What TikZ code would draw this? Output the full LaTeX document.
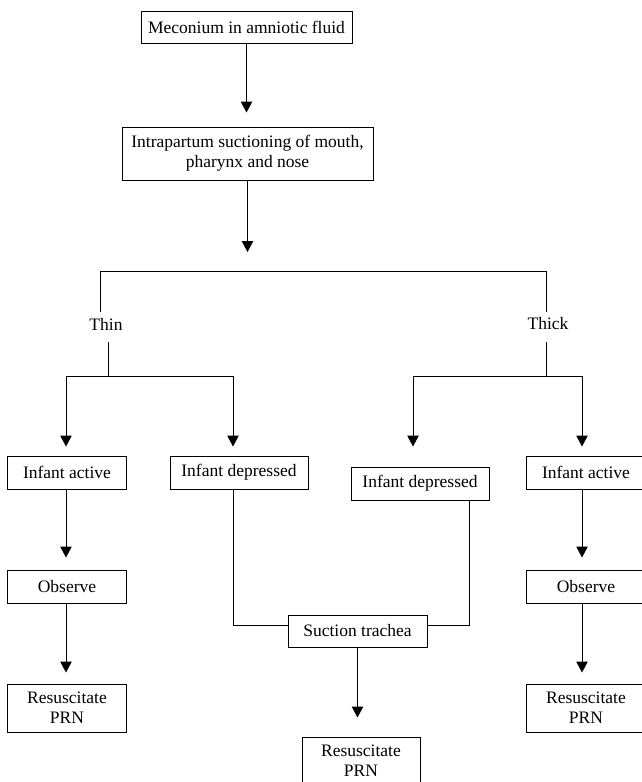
\documentclass[tikz,border=0pt]{standalone}
\usepackage{fontspec}
\setmainfont{Liberation Serif}
\usetikzlibrary{arrows.meta}
\begin{document}
\begin{tikzpicture}[x=1pt,y=-1pt, line width=1pt,
  box/.style={draw, inner sep=0pt, align=center, font=\fontsize{17.5}{20}\selectfont},
  lbl/.style={inner sep=0pt, font=\fontsize{17.5}{20}\selectfont},
  arr/.style={-{Triangle[width=11.5pt,length=11pt]}}]
\useasboundingbox (0,0) rectangle (642,782);
\clip (0,0) rectangle (642,782);
\fill[white] (0,0) rectangle (642,782);
% boxes
\node[box, minimum width=211pt, minimum height=32pt] (m) at (246.5,27) {Meconium in amniotic fluid};
\node[box, minimum width=251pt, minimum height=53pt] (ip) at (247.5,153.5) {Intrapartum suctioning of mouth,\\ pharynx and nose};
\node[lbl] (thin) at (106,324) {Thin};
\node[lbl] (thick) at (548,324) {Thick};
\node[box, minimum width=119pt, minimum height=33pt] (ia1) at (67,472.5) {Infant active};
\node[box, minimum width=138pt, minimum height=33pt] (id1) at (239,472.5) {Infant depressed};
\node[box, minimum width=138pt, minimum height=33pt] (id2) at (420,483.5) {Infant depressed};
\node[box, minimum width=119pt, minimum height=33pt] (ia2) at (586,472.5) {Infant active};
\node[box, minimum width=119pt, minimum height=33pt] (ob1) at (67,586.5) {Observe};
\node[box, minimum width=119pt, minimum height=33pt] (ob2) at (586,586.5) {Observe};
\node[box, minimum width=119pt, minimum height=48pt] (rs1) at (67,708) {Resuscitate\\PRN};
\node[box, minimum width=119pt, minimum height=48pt] (rs2) at (586,708) {Resuscitate\\PRN};
\node[box, minimum width=139pt, minimum height=32pt] (st) at (357.5,631) {Suction trachea};
\node[box, minimum width=118pt, minimum height=48pt] (rs3) at (361,761) {Resuscitate\\PRN};
% junction coordinates
\coordinate (bar) at (247,271);
\coordinate (bL) at (100,271);
\coordinate (bR) at (546,271);
\coordinate (tL1) at (100,312);
\coordinate (tR1) at (546,312);
\coordinate (tL2) at (108,342);
\coordinate (tL3) at (108,376);
\coordinate (tR2) at (546,342);
\coordinate (tR3) at (546,376);
\coordinate (l1) at (66,376);
\coordinate (l2) at (233,376);
\coordinate (r1) at (413,376);
\coordinate (r2) at (582,376);
% connectors
\draw[arr, shorten >=14pt] (m.south) -- (m.south |- ip.north);
\draw[arr, shorten >=19pt] (ip.south) -- (ip.south |- bar);
\draw (tL1) -- (bL) -- (bR) -- (tR1);
\draw (tL2) -- (tL3);
\draw (l1) -- (l2);
\draw (tR2) -- (tR3);
\draw (r1) -- (r2);
\draw[arr, shorten >=9pt] (l1) -- (l1 |- ia1.north);
\draw[arr, shorten >=9pt] (l2) -- (l2 |- id1.north);
\draw[arr, shorten >=20pt] (r1) -- (r1 |- id2.north);
\draw[arr, shorten >=9pt] (r2) -- (r2 |- ia2.north);
\draw[arr, shorten >=12pt] (l1 |- ia1.south) -- (l1 |- ob1.north);
\draw[arr, shorten >=11pt] (l1 |- ob1.south) -- (l1 |- rs1.north);
\draw[arr, shorten >=12pt] (r2 |- ia2.south) -- (r2 |- ob2.north);
\draw[arr, shorten >=11pt] (r2 |- ob2.south) -- (r2 |- rs2.north);
\draw (l2 |- id1.south) |- ([yshift=6pt]st.west);
\draw ([xshift=49pt]id2.south) |- ([yshift=6pt]st.east);
\draw[arr, shorten >=19pt] (st.south) -- (st.south |- rs3.north);
\end{tikzpicture}
\end{document}
